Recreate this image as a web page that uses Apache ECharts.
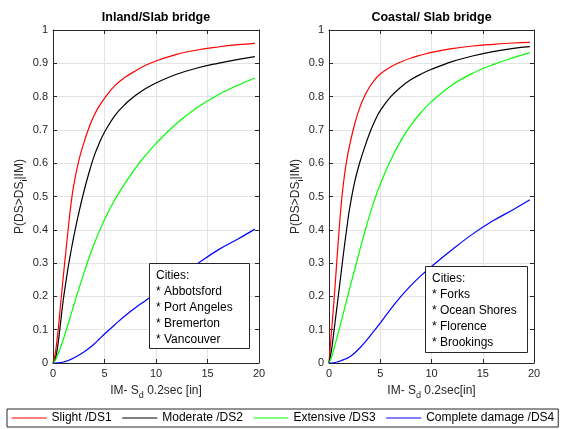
<!DOCTYPE html>
<html>
<head>
<meta charset="utf-8">
<script src="https://cdn.jsdelivr.net/npm/echarts@6/dist/echarts.min.js"></script>
<style>
  html, body { margin: 0; padding: 0; background: #fff; }
  #chart { width: 564px; height: 429px; }
</style>
</head>
<body>
<div id="chart"></div>
<script>
// IM - Sd 0.2sec [in], sample points
var im = [0, 0.25, 0.5, 0.75, 1, 1.25, 1.5, 1.75, 2, 2.5, 3, 3.5, 4, 4.5, 5, 6, 7, 8, 9, 10, 12, 14, 16, 18, 19.6];

// Inland / slab bridge
var inlandSlight    = [0, 0.035, 0.1, 0.18, 0.26, 0.335, 0.41, 0.478, 0.532, 0.607, 0.662, 0.707, 0.744, 0.772, 0.795, 0.833, 0.858, 0.877, 0.894, 0.907, 0.927, 0.94, 0.949, 0.956, 0.96];
var inlandModerate  = [0, 0.015, 0.06, 0.125, 0.19, 0.243, 0.293, 0.336, 0.377, 0.45, 0.515, 0.572, 0.622, 0.661, 0.693, 0.743, 0.777, 0.803, 0.824, 0.841, 0.867, 0.886, 0.9, 0.912, 0.92];
var inlandExtensive = [0, 0.01, 0.028, 0.048, 0.07, 0.095, 0.12, 0.146, 0.172, 0.222, 0.27, 0.316, 0.358, 0.396, 0.43, 0.49, 0.54, 0.585, 0.624, 0.659, 0.719, 0.767, 0.805, 0.835, 0.856];
var inlandComplete  = [0, 0, 0.0005, 0.001, 0.003, 0.005, 0.008, 0.011, 0.015, 0.023, 0.033, 0.044, 0.057, 0.072, 0.087, 0.115, 0.142, 0.166, 0.188, 0.21, 0.255, 0.298, 0.339, 0.373, 0.402];

// Coastal / slab bridge
var coastalSlight    = [0, 0.097, 0.192, 0.3, 0.405, 0.495, 0.562, 0.612, 0.652, 0.717, 0.767, 0.803, 0.831, 0.852, 0.868, 0.889, 0.904, 0.916, 0.925, 0.933, 0.944, 0.952, 0.957, 0.961, 0.963];
var coastalModerate  = [0, 0.04, 0.1, 0.162, 0.224, 0.288, 0.35, 0.408, 0.462, 0.543, 0.602, 0.65, 0.693, 0.729, 0.758, 0.799, 0.828, 0.851, 0.868, 0.882, 0.905, 0.922, 0.935, 0.945, 0.95];
var coastalExtensive = [0, 0.018, 0.045, 0.073, 0.102, 0.132, 0.162, 0.192, 0.222, 0.28, 0.338, 0.395, 0.448, 0.495, 0.537, 0.608, 0.667, 0.715, 0.753, 0.785, 0.835, 0.87, 0.896, 0.917, 0.932];
var coastalComplete  = [0, 0, 0.001, 0.003, 0.005, 0.008, 0.011, 0.014, 0.018, 0.03, 0.045, 0.062, 0.081, 0.1, 0.12, 0.161, 0.199, 0.233, 0.263, 0.29, 0.34, 0.387, 0.427, 0.461, 0.49];

var stateNames = ["Slight /DS1", "Moderate /DS2", "Extensive /DS3", "Complete damage /DS4"];
var stateColors = ["#ff0000", "#000000", "#00ff00", "#0000ff"];
var inlandCities = ["Abbotsford", "Port Angeles", "Bremerton", "Vancouver"];
var coastalCities = ["Forks", "Ocean Shores", "Florence", "Brookings"];

var font = "Liberation Sans";
var axisColor = "#262626";

function pairs(ys) {
  return im.map(function(x, i) { return [x, ys[i]]; });
}

var nameRich = {
  n: { fontFamily: font, fontSize: 12, color: axisColor, lineHeight: 14, verticalAlign: "top" },
  s: { fontFamily: font, fontSize: 9, color: axisColor, lineHeight: 10, padding: [6, 0, 0, 0], verticalAlign: "top" }
};

function xAxes(g, label) {
  return [
    {
      gridIndex: g, type: "value", min: 0, max: 20, interval: 5, position: "bottom",
      name: label, nameLocation: "middle", nameGap: 22,
      nameTextStyle: { rich: nameRich },
      axisLine: { onZero: false, lineStyle: { color: axisColor, width: 1 } },
      axisTick: { inside: true, length: 4, lineStyle: { color: axisColor } },
      axisLabel: { fontFamily: font, fontSize: 11, color: axisColor, margin: 5 },
      splitLine: { show: true, lineStyle: { color: "#e3e3e3", width: 1 } }
    },
    {
      gridIndex: g, type: "value", min: 0, max: 20, interval: 5, position: "top",
      axisLine: { onZero: false, lineStyle: { color: axisColor, width: 1 } },
      axisTick: { inside: true, length: 4, lineStyle: { color: axisColor } },
      axisLabel: { show: false },
      splitLine: { show: false }
    }
  ];
}

function yAxes(g) {
  return [
    {
      gridIndex: g, type: "value", min: 0, max: 1, interval: 0.1, position: "left",
      name: "{n|P(DS>DS}{s|i}{n||IM)}", nameLocation: "middle", nameGap: 24, nameRotate: 90,
      nameTextStyle: { rich: nameRich },
      axisLine: { show: true, onZero: false, lineStyle: { color: axisColor, width: 1 } },
      axisTick: { show: true, inside: true, length: 4, lineStyle: { color: axisColor } },
      axisLabel: { fontFamily: font, fontSize: 11, color: axisColor, margin: 5 },
      splitLine: { show: true, lineStyle: { color: "#e3e3e3", width: 1 } }
    },
    {
      gridIndex: g, type: "value", min: 0, max: 1, interval: 0.1, position: "right",
      axisLine: { show: true, onZero: false, lineStyle: { color: axisColor, width: 1 } },
      axisTick: { show: true, inside: true, length: 4, lineStyle: { color: axisColor } },
      axisLabel: { show: false },
      splitLine: { show: false }
    }
  ];
}

function makeSeries(g, sets) {
  return sets.map(function(ys, k) {
    return {
      name: stateNames[k], type: "line", xAxisIndex: g * 2, yAxisIndex: g * 2,
      data: pairs(ys), symbol: "none", smooth: 0.4,
      lineStyle: { color: stateColors[k], width: 1.2 },
      itemStyle: { color: stateColors[k] },
      z: 3
    };
  });
}

function cityBox(x, y, w, h, cities) {
  var lines = ["Cities:"].concat(cities.map(function(c) { return "* " + c; }));
  return [
    { type: "rect", shape: { x: x, y: y, width: w, height: h },
      style: { fill: "#fff", stroke: axisColor, lineWidth: 1 }, z: 100 },
    { type: "text", x: x + 6.5, y: y + 4.5,
      style: { text: lines.join("\n"), fontFamily: font, fontSize: 12, lineHeight: 16, fill: "#000" }, z: 101 }
  ];
}

var chart = echarts.init(document.getElementById("chart"));

var option = {
  backgroundColor: "#fff",
  animation: false,
  grid: [
    { left: 53, top: 30, width: 206, height: 333 },
    { left: 329, top: 30, width: 205, height: 333 }
  ],
  xAxis: xAxes(0, "{n|IM- S}{s|d}{n| 0.2sec [in]}").concat(xAxes(1, "{n|IM- S}{s|d}{n| 0.2sec[in]}")),
  yAxis: yAxes(0).concat(yAxes(1)),
  legend: {
    data: stateNames, left: 7, top: 409,
    itemWidth: 35, itemHeight: 14, itemGap: 10, padding: [3, 4],
    borderColor: axisColor, borderWidth: 1, backgroundColor: "#fff",
    itemStyle: { opacity: 0, borderWidth: 0 },
    lineStyle: { width: 1.2 },
    textStyle: { fontFamily: font, fontSize: 12, color: "#000" }
  },
  graphic: [
    { type: "text", x: 156, y: 18,
      style: { text: "Inland/Slab bridge", fontFamily: font, fontSize: 12.5, fontWeight: "bold",
               fill: "#000", align: "center", verticalAlign: "middle" } },
    { type: "text", x: 431.5, y: 18,
      style: { text: "Coastal/ Slab bridge", fontFamily: font, fontSize: 12.5, fontWeight: "bold",
               fill: "#000", align: "center", verticalAlign: "middle" } }
  ].concat(cityBox(149.5, 263.5, 100, 85, inlandCities))
   .concat(cityBox(425.5, 266.5, 102, 86, coastalCities)),
  series: makeSeries(0, [inlandSlight, inlandModerate, inlandExtensive, inlandComplete])
    .concat(makeSeries(1, [coastalSlight, coastalModerate, coastalExtensive, coastalComplete]))
};

chart.setOption(option);
</script>
</body>
</html>
